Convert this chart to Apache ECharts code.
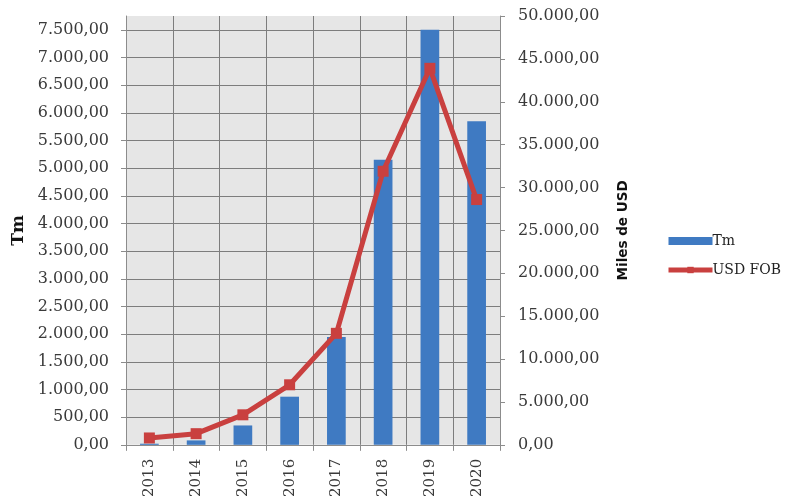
<!DOCTYPE html>
<html>
<head>
<meta charset="utf-8">
<script src="https://cdn.jsdelivr.net/npm/echarts@6/dist/echarts.min.js"></script>
<style>
html,body{margin:0;padding:0;background:#fff;}
#chart{width:785px;height:500px;}
</style>
</head>
<body>
<div id="chart"></div>
<script>
var years = ['2013', '2014', '2015', '2016', '2017', '2018', '2019', '2020'];
var tm = [20, 80, 350, 870, 1950, 5150, 7500, 5850];
var usdFob = [800, 1300, 3500, 7000, 13000, 31900, 43900, 28600];

function fmt(v) {
  var s = Number(v).toFixed(2).split('.');
  var i = s[0].replace(/\B(?=(\d{3})+(?!\d))/g, '.');
  return i + ',' + s[1];
}

var labelFont = 'DejaVu Serif';
var txtColor = '#3a3a3a';
var gridColors = [];
for (var k = 0; k < 16; k++) gridColors.push('#7d7d7d');
gridColors.push('rgba(0,0,0,0)');

var chart = echarts.init(document.getElementById('chart'));
chart.setOption({
  animation: false,
  backgroundColor: '#ffffff',
  legend: {
    orient: 'vertical',
    left: 661,
    top: 229,
    itemWidth: 44,
    itemHeight: 8,
    itemGap: 15,
    textStyle: { fontFamily: labelFont, fontSize: 14, color: '#222', padding: [0, 0, 0, -5] },
    data: [
      { name: 'Tm', icon: 'rect' },
      { name: 'USD FOB', lineStyle: { width: 5 }, itemStyle: { color: '#c9403f' } }
    ]
  },
  grid: {
    left: 126, right: 285, top: 16, bottom: 54,
    show: true,
    backgroundColor: '#e6e6e6',
    borderWidth: 0
  },
  xAxis: {
    type: 'category',
    data: years,
    boundaryGap: true,
    axisLine: { show: true, lineStyle: { color: '#8c8c8c', width: 1 } },
    axisTick: { show: true, length: 6, lineStyle: { color: '#8c8c8c' } },
    splitLine: { show: true, lineStyle: { color: '#7d7d7d', width: 1 } },
    axisLabel: {
      rotate: 90,
      margin: 14,
      fontFamily: labelFont,
      fontSize: 15,
      color: txtColor
    }
  },
  yAxis: [
    {
      type: 'value',
      min: 0,
      max: 7750,
      interval: 500,
      name: 'Tm',
      nameLocation: 'middle',
      nameGap: 99,
      nameTextStyle: { fontFamily: labelFont, fontWeight: 'bold', fontSize: 17, color: '#111' },
      axisLine: { show: true, lineStyle: { color: '#8c8c8c' } },
      axisTick: { show: true, length: 5, lineStyle: { color: '#8c8c8c' } },
      splitLine: { show: true, lineStyle: { color: gridColors, width: 1 } },
      axisLabel: {
        showMaxLabel: false,
        margin: 17,
        fontFamily: labelFont,
        fontSize: 16,
        color: txtColor,
        formatter: function (v) { return v > 7500 ? '' : fmt(v); }
      }
    },
    {
      type: 'value',
      min: 0,
      max: 50000,
      interval: 5000,
      position: 'right',
      name: 'Miles de USD',
      nameLocation: 'middle',
      nameGap: 116,
      nameTextStyle: { fontFamily: 'DejaVu Sans', fontWeight: 'bold', fontSize: 13.5, color: '#111' },
      axisLine: { show: true, lineStyle: { color: '#8c8c8c' } },
      axisTick: { show: true, length: 5, lineStyle: { color: '#8c8c8c' } },
      splitLine: { show: false },
      axisLabel: {
        margin: 18,
        fontFamily: labelFont,
        fontSize: 16,
        color: txtColor,
        formatter: function (v) { return fmt(v); }
      }
    }
  ],
  series: [
    {
      name: 'Tm',
      type: 'bar',
      yAxisIndex: 0,
      data: tm,
      barWidth: '40%',
      itemStyle: { color: '#3f7ac2' }
    },
    {
      name: 'USD FOB',
      type: 'line',
      yAxisIndex: 1,
      data: usdFob,
      symbol: 'rect',
      symbolSize: 11,
      lineStyle: { color: '#c9403f', width: 5 },
      itemStyle: { color: '#c9403f' }
    }
  ]
});
</script>
</body>
</html>
